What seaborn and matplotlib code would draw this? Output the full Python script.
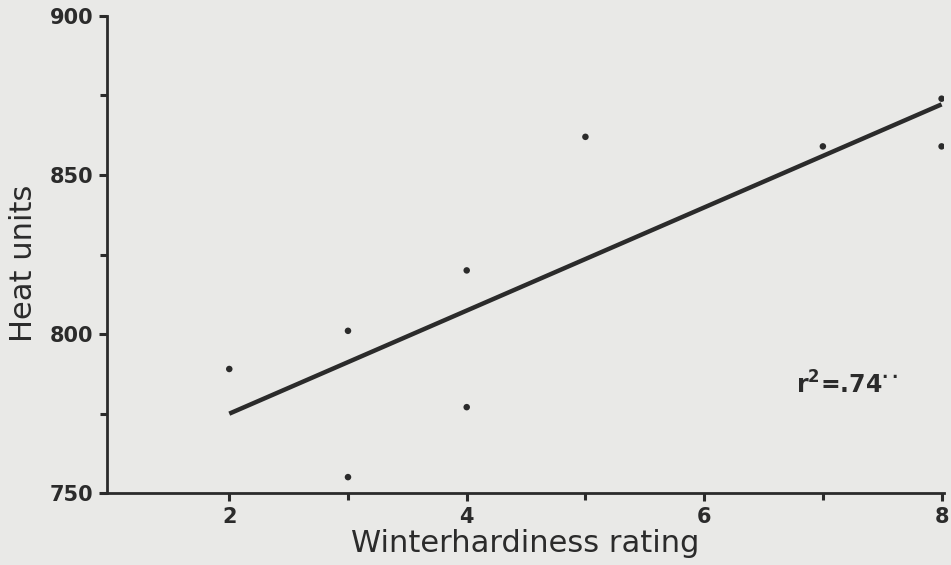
import seaborn as sns
import matplotlib.pyplot as plt
import matplotlib.ticker as ticker
import pandas as pd

sns.set_theme(style="ticks")
plt.rcParams.update({'font.family': 'DejaVu Sans', 'mathtext.fontset': 'dejavusans',
                     'mathtext.default': 'bf'})

## Data
rating = [2, 3, 3, 4, 4, 5, 7, 8, 8]
heat_units = [789, 801, 755, 820, 777, 862, 859, 874, 859]
x_ticks = [2, 4, 6, 8]
y_ticks = [750, 800, 850, 900]
r2_text = r"r$^{2}$=.74$^{\cdot\cdot}$"

col_x = "Winterhardiness rating"
col_y = "Heat units"
data = pd.DataFrame({col_x: rating, col_y: heat_units})

bg = "#e9e9e7"
ink = "#2b2b2b"

fig = plt.figure(figsize=(9.51, 5.65), dpi=100, facecolor=bg)
ax = fig.add_axes([0.1125, 0.1274, 0.8801, 0.8443])
ax.set_facecolor(bg)

#--Points and fitted line
sns.scatterplot(x=col_x, y=col_y, data=data, ax=ax, color=ink, s=22,
                edgecolor="none", zorder=3)
sns.regplot(x=col_x, y=col_y, data=data, ax=ax, scatter=False, ci=None,
            color=ink, line_kws={"linewidth": 3.2, "solid_capstyle": "butt"})

#--Range and ticks
ax.set_xlim(0.97, 8.02)
ax.set_ylim(750, 900)
ax.set_xticks(x_ticks)
ax.set_yticks(y_ticks)
ax.xaxis.set_minor_locator(ticker.FixedLocator([3, 5, 7]))
ax.yaxis.set_minor_locator(ticker.FixedLocator([775, 825, 875]))
ax.tick_params(which="major", direction="out", length=6, width=2.2, color=ink,
               labelsize=15, labelcolor=ink, pad=4)
ax.tick_params(which="minor", direction="out", length=5, width=2.2, color=ink)
for lab in ax.get_xticklabels() + ax.get_yticklabels():
    lab.set_fontweight("bold")

sns.despine(ax=ax)
for side in ["left", "bottom"]:
    ax.spines[side].set_linewidth(2.0)
    ax.spines[side].set_color(ink)

#--Labels
ax.set_xlabel(col_x, fontsize=22, color=ink)
ax.set_ylabel(col_y, fontsize=22, color=ink)
ax.xaxis.set_label_coords(0.5, -0.106)
ax.yaxis.set_label_coords(-0.10, 0.482)
ax.xaxis.label.set_va("center")
ax.yaxis.label.set_va("center")

ax.text(6.77, 784, r2_text, fontsize=17, fontweight="bold", color=ink,
        va="center", ha="left")

fig.savefig("out.png", dpi=100, facecolor=bg)
plt.close()
